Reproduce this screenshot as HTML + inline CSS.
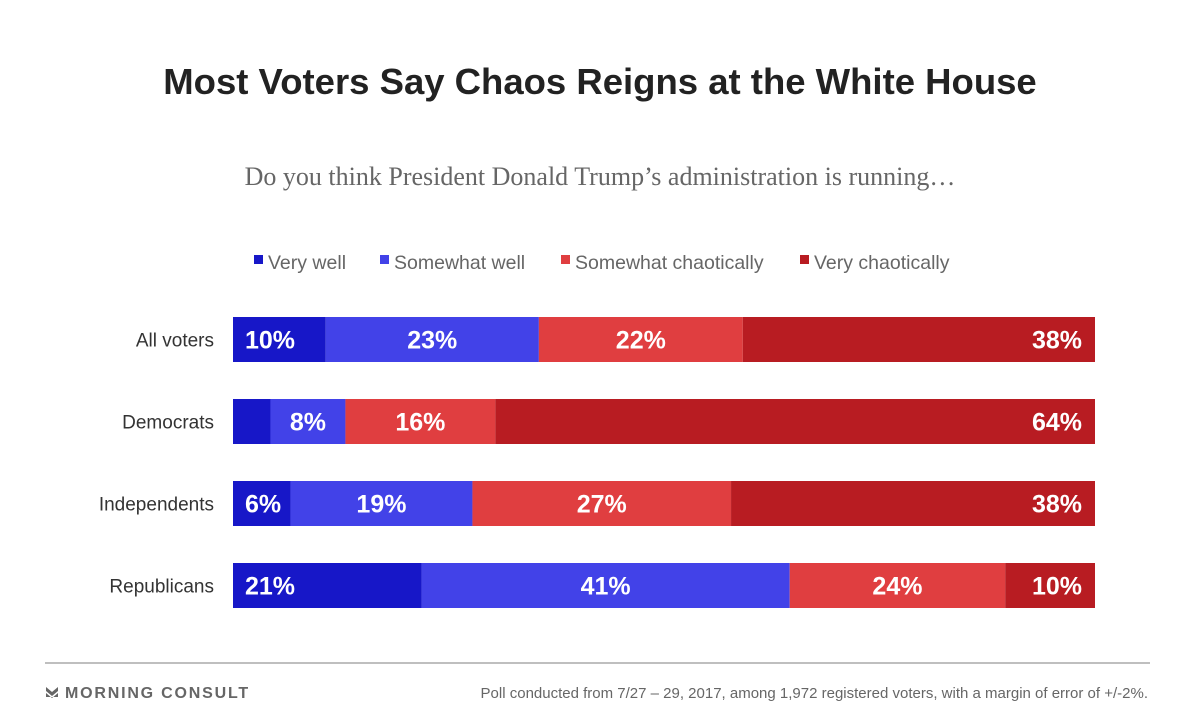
<!DOCTYPE html>
<html><head><meta charset="utf-8"><style>
body{margin:0;width:1200px;height:720px;background:#fff;overflow:hidden;font-family:"Liberation Sans",sans-serif;position:relative}
.t{position:absolute;left:0;width:1200px;text-align:center}
</style></head><body>
<div class="t" style="top:61px;font-size:36.5px;font-weight:bold;color:#222">Most Voters Say Chaos Reigns at the White House</div>
<div class="t" style="top:162px;font-size:26px;color:#666;font-family:'Liberation Serif',serif">Do you think President Donald Trump’s administration is running…</div>
<svg id="c" width="1200" height="720" style="position:absolute;left:0;top:0">
<line x1="45" y1="663" x2="1150" y2="663" stroke="#aaa" stroke-width="1.5"/>
<g>
<path d="M46 687 l6 5 l6 -5 v4 l-6 5 l-6 -5z M46 693 l6 5 l6 -5 v4 h-12z" fill="#666"/>
<text x="65" y="698" font-size="16" font-weight="bold" fill="#666" letter-spacing="1.8">MORNING CONSULT</text>
</g>
<text x="1148" y="698" font-size="15" fill="#666" text-anchor="end">Poll conducted from 7/27 – 29, 2017, among 1,972 registered voters, with a margin of error of +/-2%.</text>
</svg>
<script>
const groups=["All voters","Democrats","Independents","Republicans"];
const seriesNames=["Very well","Somewhat well","Somewhat chaotically","Very chaotically"];
const veryWell=[10,4,6,21];
const somewhatWell=[23,8,19,41];
const somewhatChaotic=[22,16,27,24];
const veryChaotic=[38,64,38,10];
const colors=["#1717c8","#4242e8","#e03e40","#b81c22"];
const series=[veryWell,somewhatWell,somewhatChaotic,veryChaotic];
const svg=document.getElementById('c');const NS="http://www.w3.org/2000/svg";
const X0=233,X1=1095,Y0=317,STEP=82,H=45;
function mk(t,a){const e=document.createElementNS(NS,t);for(const k in a)e.setAttribute(k,a[k]);svg.appendChild(e);return e;}
const lx=[254,380,561,800];
seriesNames.forEach((n,i)=>{
 const r=mk('rect',{x:lx[i],y:255,width:9,height:9,fill:colors[i]});
 
 
 const t=mk('text',{x:lx[i]+14,y:269,'font-size':19.5,fill:'#666'});t.textContent=n;
 
 
});
groups.forEach((g,r)=>{
 const y=Y0+r*STEP;
 const tot=series.reduce((s,a)=>s+a[r],0);
 const sx=v=>v/tot*(X1-X0);
 const lab=mk('text',{x:214,y:y+H/2+7,'font-size':19,fill:'#333','text-anchor':'end'});lab.textContent=g;
 
 
 let acc=0;
 series.forEach((s,i)=>{
  const v=s[r];const x=X0+sx(acc),w=sx(v);acc+=v;
  const b=mk('rect',{x:x,y:y,width:w,height:H,fill:colors[i]});
  
  
  if(v<5)return;
  let tx=x+w/2,anc='middle';
  if(i===0){tx=x+12;anc='start';}
  if(i===3){tx=x+w-13;anc='end';}
  const t=mk('text',{x:tx,y:y+H/2+9,'font-size':25,'font-weight':'bold',fill:'#fff','text-anchor':anc});t.textContent=v+'%';
  
  
 });
});
</script>
</body></html>
